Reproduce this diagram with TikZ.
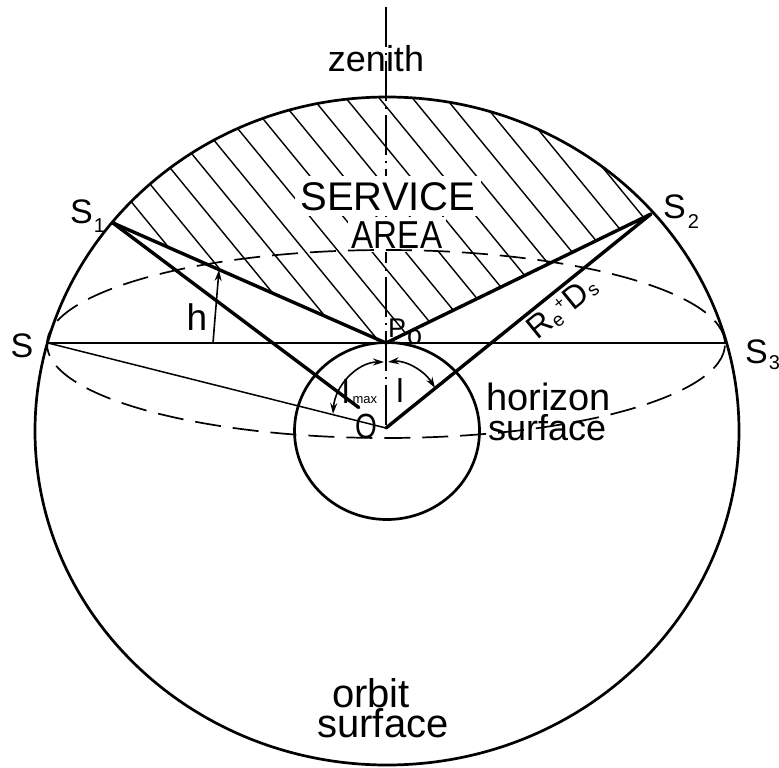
\documentclass[tikz,border=0pt]{standalone}
\usepackage{fontspec}
\usepackage{graphicx}
\setmainfont{Liberation Sans}
\usetikzlibrary{arrows.meta,calc}
\newcommand{\myfs}[1]{\fontsize{#1}{#1}\selectfont}
\begin{document}
\begin{tikzpicture}[x=1pt,y=-1pt,
  thickline/.style={line width=3.4pt, line cap=round, line join=round},
  orbitline/.style={line width=2.7pt},
  thinline/.style={line width=1.5pt},
  baseline2/.style={line width=2pt},
  hatchline/.style={line width=1.4pt},
  horizonline/.style={line width=1.7pt, dash pattern=on 26pt off 12pt},
  axisline/.style={line width=1.3pt, dash pattern=on 40pt off 6pt on 2pt off 6pt},
  tipA/.tip={Stealth[length=11pt,width=7pt]},
  angarrow/.style={line width=1.6pt, -tipA},
  angboth/.style={line width=1.6pt, tipA-tipA},
  lab/.style={inner sep=0pt, font=\myfs{36}},
]
\useasboundingbox (0,0) rectangle (779,768);
\coordinate (C) at (387,431);
\coordinate (O) at (386,428);
\coordinate (P) at (386,343);
\coordinate (S) at (48,343);
\coordinate (S1) at (113,223);
\coordinate (S2) at (651,214);
\coordinate (S3) at (725,343);
\coordinate (HC) at (386,344);
\coordinate (Z) at (386,7);

% hatching of the service area
\begin{scope}
  \clip (C) ellipse [x radius=352pt, y radius=334pt];
  \clip (S1) -- (P) -- (S2) -- (651,0) -- (113,0) -- cycle;
  \foreach \k in {-8,...,20}
    \draw[hatchline] ({32.4+33.3*\k},0) -- ++(656,800);
\end{scope}

% zenith axis
\draw[axisline] (Z) -- (O);

% service area text
\node[lab, anchor=base, fill=white, inner sep=6pt, font=\myfs{40}] (service) at (388,210) {SERVICE};
\node[lab, anchor=base, fill=white, inner sep=4pt, font=\myfs{39}] (area) at (397,248) {\scalebox{0.85}[1]{AREA}};

% circles
\draw[orbitline] (C) ellipse [x radius=352pt, y radius=334pt];
\draw[orbitline] (C) ellipse [x radius=92.5pt, y radius=88.5pt];
\draw[horizonline] (HC) ellipse [x radius=339pt, y radius=94pt];

% lines
\draw[baseline2] (S) -- (S3);
\draw[thinline] (S) -- (O);
\draw[thickline] (S1) -- (P) -- (S2) -- (O);
\draw[thickline] (S1) -- ($(S1)!0.9!(O)$);

% angle arrows
\coordinate (hA) at (213,343);
\coordinate (hB) at (219,270);
\draw[angarrow] (hA) .. controls (215,318) and (217,294) .. (hB);
\coordinate (lA) at (388,362);
\coordinate (lB) at (435,388);
\draw[angboth] (lA) .. controls (405,360) and (424,370) .. (lB);
\coordinate (mA) at (384,362);
\coordinate (mB) at (333,414);
\draw[angboth] (mA) .. controls (358,362) and (335,385) .. (mB);

% labels
\node[lab, anchor=base] (zen) at (376,72) {zenith};
\node[lab, anchor=base, font=\myfs{34}] (sl) at (22,357) {S};
\node[lab, anchor=base west, font=\myfs{34}] (s1l) at (70,223) {S\kern1pt\raisebox{-9pt}{\myfs{20}1}};
\node[lab, anchor=base west, font=\myfs{34}] (s2l) at (663,218) {S\kern2pt\raisebox{-10pt}{\myfs{20}2}};
\node[lab, anchor=base west, font=\myfs{34}] (s3l) at (745,363) {S\kern1pt\raisebox{-6pt}{\myfs{20}3}};
\node[lab, anchor=base, font=\myfs{37}] (hl) at (197,330) {h};
\node[lab, anchor=base west, font=\myfs{27}] (pl) at (388,337) {P\kern1pt\raisebox{-7pt}{o}};
\node[lab, anchor=base west, font=\myfs{33}] (lml) at (342,403) {l\kern3pt{\myfs{13}max}};
\node[lab, anchor=base, font=\myfs{33}] (ll) at (400,402) {l};
\node[lab, anchor=base, font=\myfs{35}] (ol) at (366,438) {\scalebox{0.8}[1]{O}};
\node[lab, anchor=base west, rotate=39, font=\myfs{32}] (rel) at (537,341)
  {R\kern1pt\raisebox{-3pt}{\myfs{19}e}\kern1pt\raisebox{10pt}{\myfs{17}+}\kern1ptD\kern1pt\raisebox{-2pt}{\myfs{19}s}};
\node[lab, anchor=base west, font=\myfs{38}] (hor) at (486,410) {horizon};
\node[lab, anchor=base west, font=\myfs{36}] (hsu) at (488,440) {surface};
\node[lab, anchor=base, font=\myfs{40}] (orb) at (371,707) {orbit};
\node[lab, anchor=base, font=\myfs{40}] (osu) at (383,737) {surface};
\end{tikzpicture}
\end{document}
